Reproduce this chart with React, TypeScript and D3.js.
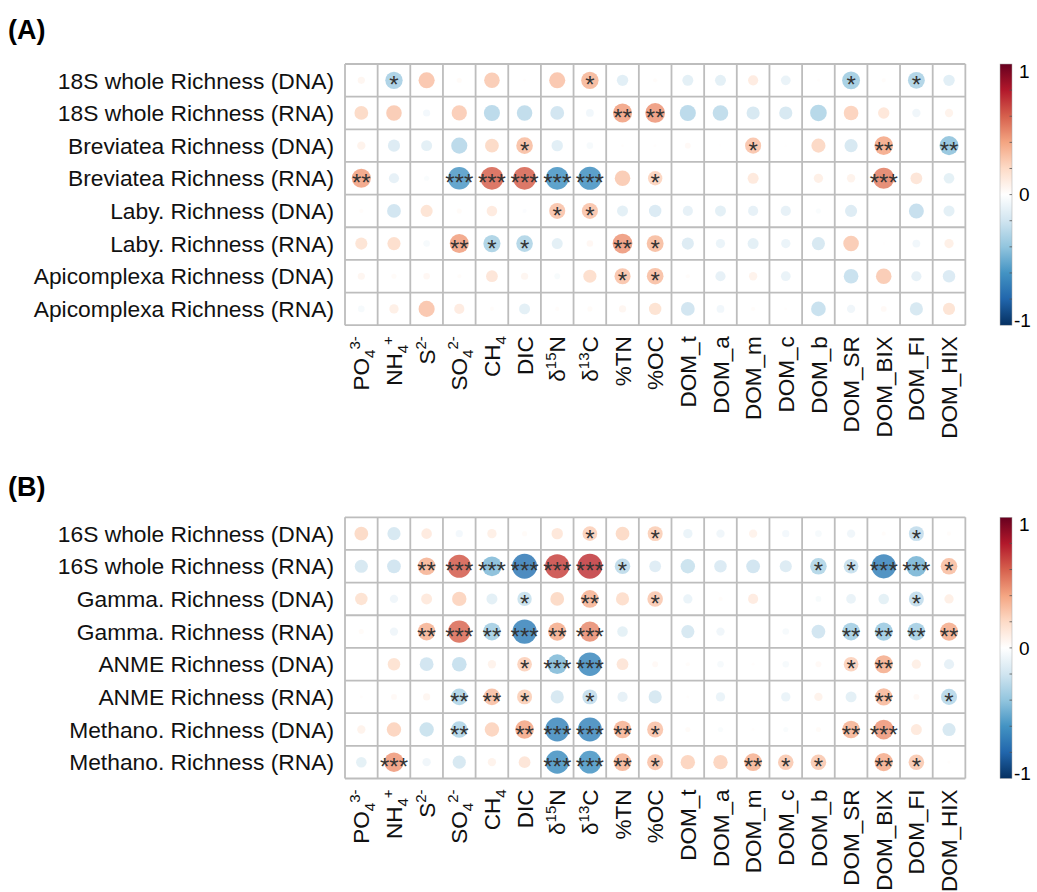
import * as d3 from 'd3';

const FONT = '"Liberation Sans", Arial, Helvetica, sans-serif';

// column labels: [text, 'n' | 'sub' | 'sup']
const columns: [string, string][][] = [
  [['PO', 'n'], ['4', 'sub'], ['3-', 'sup']],
  [['NH', 'n'], ['4', 'sub'], ['+', 'sup']],
  [['S', 'n'], ['2-', 'sup']],
  [['SO', 'n'], ['4', 'sub'], ['2-', 'sup']],
  [['CH', 'n'], ['4', 'sub']],
  [['DIC', 'n']],
  [['δ', 'n'], ['15', 'sup'], ['N', 'n']],
  [['δ', 'n'], ['13', 'sup'], ['C', 'n']],
  [['%TN', 'n']],
  [['%OC', 'n']],
  [['DOM_t', 'n']],
  [['DOM_a', 'n']],
  [['DOM_m', 'n']],
  [['DOM_c', 'n']],
  [['DOM_b', 'n']],
  [['DOM_SR', 'n']],
  [['DOM_BIX', 'n']],
  [['DOM_FI', 'n']],
  [['DOM_HIX', 'n']],
];

const rowsA = [
  '18S whole Richness (DNA)',
  '18S whole Richness (RNA)',
  'Breviatea Richness (DNA)',
  'Breviatea Richness (RNA)',
  'Laby. Richness (DNA)',
  'Laby. Richness (RNA)',
  'Apicomplexa Richness (DNA)',
  'Apicomplexa Richness (RNA)',
];

const rowsB = [
  '16S whole Richness (DNA)',
  '16S whole Richness (RNA)',
  'Gamma. Richness (DNA)',
  'Gamma. Richness (RNA)',
  'ANME Richness (DNA)',
  'ANME Richness (RNA)',
  'Methano. Richness (DNA)',
  'Methano. Richness (RNA)',
];

const corrA = [
  [0.06, -0.35, 0.3, 0.03, 0.28, 0.01, 0.3, 0.35, -0.15, 0.02, -0.14, -0.14, 0.12, -0.11, 0.01, -0.37, 0.02, -0.33, -0.15],
  [0.22, 0.28, -0.06, 0.27, -0.3, -0.28, -0.22, -0.07, 0.42, 0.45, -0.3, -0.28, -0.2, -0.2, -0.32, 0.25, 0.15, -0.08, 0.08],
  [0.08, -0.17, -0.14, -0.3, 0.22, 0.32, -0.15, -0.05, 0.01, 0.01, 0.04, 0.005, 0.3, 0.005, 0.23, -0.2, 0.4, 0, -0.42],
  [0.42, -0.12, -0.03, -0.58, 0.6, 0.6, -0.6, -0.62, 0.28, 0.24, 0, 0, 0.14, 0, 0.1, 0.08, 0.52, 0.16, -0.13],
  [0.02, -0.22, 0.17, 0.03, 0.13, -0.02, 0.3, 0.3, -0.14, -0.18, -0.12, -0.14, -0.12, -0.12, -0.03, -0.17, 0.005, -0.26, -0.14],
  [0.17, 0.2, -0.05, 0.42, -0.34, -0.32, -0.14, 0.05, 0.45, 0.33, -0.17, -0.1, -0.14, -0.1, -0.2, 0.28, 0.005, -0.07, 0.1],
  [0.06, 0.03, 0.05, 0.02, 0.16, 0.06, -0.04, 0.2, 0.3, 0.32, 0.02, -0.12, 0.08, -0.11, 0, -0.25, 0.28, -0.12, -0.18],
  [-0.05, 0.1, 0.3, 0.12, 0.02, -0.14, 0.02, 0.03, 0.06, 0.18, -0.22, -0.07, 0.02, 0.01, -0.25, -0.08, 0.04, -0.2, 0.17],
];

const sigA = [
  [0, 1, 0, 0, 0, 0, 0, 1, 0, 0, 0, 0, 0, 0, 0, 1, 0, 1, 0],
  [0, 0, 0, 0, 0, 0, 0, 0, 2, 2, 0, 0, 0, 0, 0, 0, 0, 0, 0],
  [0, 0, 0, 0, 0, 1, 0, 0, 0, 0, 0, 0, 1, 0, 0, 0, 2, 0, 2],
  [2, 0, 0, 3, 3, 3, 3, 3, 0, 1, 0, 0, 0, 0, 0, 0, 3, 0, 0],
  [0, 0, 0, 0, 0, 0, 1, 1, 0, 0, 0, 0, 0, 0, 0, 0, 0, 0, 0],
  [0, 0, 0, 2, 1, 1, 0, 0, 2, 1, 0, 0, 0, 0, 0, 0, 0, 0, 0],
  [0, 0, 0, 0, 0, 0, 0, 0, 1, 1, 0, 0, 0, 0, 0, 0, 0, 0, 0],
  [0, 0, 0, 0, 0, 0, 0, 0, 0, 0, 0, 0, 0, 0, 0, 0, 0, 0, 0],
];

const corrB = [
  [0.22, -0.2, 0.13, -0.06, 0.1, 0.03, 0.15, 0.25, 0.22, 0.26, -0.1, -0.08, 0.08, -0.06, -0.05, -0.08, 0.02, -0.26, 0.02],
  [-0.2, -0.22, 0.36, 0.62, -0.45, -0.72, 0.68, 0.72, -0.28, -0.16, -0.24, -0.18, -0.22, -0.17, -0.32, -0.25, -0.68, -0.48, 0.32],
  [0.18, -0.08, 0.14, 0.24, -0.14, -0.24, 0.22, 0.36, 0.2, 0.28, -0.1, 0.02, 0.12, 0, -0.04, -0.11, -0.13, -0.26, 0.1],
  [0.03, -0.08, 0.36, 0.58, -0.36, -0.68, 0.38, 0.48, -0.13, 0, -0.2, -0.08, 0, -0.05, -0.22, -0.36, -0.38, -0.36, 0.38],
  [0, 0.18, -0.22, -0.25, 0.08, 0.25, -0.45, -0.65, 0.16, 0.04, 0.02, -0.05, 0.01, -0.05, 0.04, 0.25, 0.38, 0.1, -0.12],
  [0.01, 0.04, 0.06, -0.32, 0.32, 0.26, -0.2, -0.26, -0.12, -0.2, 0.01, -0.1, 0, -0.1, 0.08, -0.14, 0.34, 0.04, -0.3],
  [0.08, 0.24, -0.24, -0.32, 0.24, 0.4, -0.66, -0.66, 0.36, 0.3, 0.03, -0.03, 0.01, -0.03, 0.03, 0.36, 0.45, 0.14, -0.2],
  [-0.13, 0.44, -0.08, -0.2, 0.08, 0.16, -0.62, -0.6, 0.36, 0.3, 0.24, 0.24, 0.36, 0.28, 0.28, 0, 0.38, 0.28, 0.01],
];

const sigB = [
  [0, 0, 0, 0, 0, 0, 0, 1, 0, 1, 0, 0, 0, 0, 0, 0, 0, 1, 0],
  [0, 0, 2, 3, 3, 3, 3, 3, 1, 0, 0, 0, 0, 0, 1, 1, 3, 3, 1],
  [0, 0, 0, 0, 0, 1, 0, 2, 0, 1, 0, 0, 0, 0, 0, 0, 0, 1, 0],
  [0, 0, 2, 3, 2, 3, 2, 3, 0, 0, 0, 0, 0, 0, 0, 2, 2, 2, 2],
  [0, 0, 0, 0, 0, 1, 3, 3, 0, 0, 0, 0, 0, 0, 0, 1, 2, 0, 0],
  [0, 0, 0, 2, 2, 1, 0, 1, 0, 0, 0, 0, 0, 0, 0, 0, 2, 0, 1],
  [0, 0, 0, 2, 0, 2, 3, 3, 2, 1, 0, 0, 0, 0, 0, 2, 3, 0, 0],
  [0, 3, 0, 0, 0, 0, 3, 3, 2, 1, 0, 0, 2, 1, 1, 0, 2, 1, 0],
];

const paletteStops = [-1, -0.8, -0.6, -0.4, -0.2, 0, 0.2, 0.4, 0.6, 0.8, 1];
const palette = ['#053061', '#2166AC', '#4393C3', '#92C5DE', '#D1E5F0', '#FFFFFF', '#FDDBC7', '#F4A582', '#D6604D', '#B2182B', '#67001F'];

const color = d3.scaleLinear<string>().domain(paletteStops).range(palette).interpolate(d3.interpolateRgb);

const gridLeft = 345;
const cell = 32.65;

function ColLabel({ parts, x, y }: { parts: [string, string][]; x: number; y: number }) {
  let cur = 0;
  return (
    <text transform={`translate(${x},${y}) rotate(-90)`} textAnchor="end" dy="0.36em" fontSize={22.5} fontFamily={FONT} fill="#111">
      {parts.map(([t, k], i) => {
        const target = k === 'sub' ? 6 : k === 'sup' ? -9 : 0;
        const dy = target - cur;
        cur = target;
        return (
          <tspan key={i} dy={i === 0 ? undefined : dy} fontSize={k === 'n' ? 22.5 : 15}>
            {t}
          </tspan>
        );
      })}
    </text>
  );
}

function Panel({ id, tag, tagY, top, rows, values, sig }: {
  id: string; tag: string; tagY: number; top: number; rows: string[]; values: number[][]; sig: number[][];
}) {
  const x = d3.scaleBand<number>().domain(d3.range(columns.length)).range([gridLeft, gridLeft + cell * columns.length]);
  const y = d3.scaleBand<number>().domain(d3.range(rows.length)).range([top, top + cell * rows.length]);
  const radius = d3.scaleSqrt().domain([0, 1]).range([0, 0.45 * x.bandwidth()]);
  const [y0, y1] = y.range();
  const cb = d3.scaleLinear().domain([-1, 1]).range([y1, y0]);
  const cbX = 1000;
  const cbW = 12;

  return (
    <g>
      <text x={8} y={tagY} fontSize={27} fontWeight="bold" fontFamily={FONT} fill="#000">{tag}</text>
      {rows.map((r, i) => (
        <text key={r} x={gridLeft - 11} y={y(i)! + y.bandwidth() / 2} dy="0.36em" textAnchor="end" fontSize={22.8} fontFamily={FONT} fill="#111">
          {r}
        </text>
      ))}
      <rect x={gridLeft} y={y0} width={cell * columns.length} height={y1 - y0} fill="#fff" />
      {values.map((row, i) =>
        row.map((v, j) => (
          <circle key={`${i}-${j}`} cx={x(j)! + x.bandwidth() / 2} cy={y(i)! + y.bandwidth() / 2} r={radius(Math.abs(v))} fill={color(v)} fillOpacity={0.85} />
        ))
      )}
      {d3.range(columns.length + 1).map((j) => (
        <line key={`v${j}`} x1={gridLeft + j * cell} x2={gridLeft + j * cell} y1={y0} y2={y1} stroke="#bdbdbd" strokeWidth={1.8} />
      ))}
      {d3.range(rows.length + 1).map((i) => (
        <line key={`h${i}`} x1={gridLeft} x2={gridLeft + cell * columns.length} y1={top + i * cell} y2={top + i * cell} stroke="#bdbdbd" strokeWidth={1.8} />
      ))}
      {sig.map((row, i) =>
        row.map((s, j) =>
          s > 0 ? (
            <text key={`s${i}-${j}`} x={x(j)! + x.bandwidth() / 2} y={y(i)! + y.bandwidth() / 2 + 13} textAnchor="middle" fontSize={24} fontFamily={FONT} fill="#333">
              {'*'.repeat(s)}
            </text>
          ) : null
        )
      )}
      {columns.map((c, j) => (
        <ColLabel key={j} parts={c} x={x(j)! + x.bandwidth() / 2} y={y1 + 11} />
      ))}
      <defs>
        <linearGradient id={`cb-${id}`} x1="0" y1="1" x2="0" y2="0">
          {palette.map((c, i) => (
            <stop key={i} offset={`${i * 10}%`} stopColor={c} />
          ))}
        </linearGradient>
      </defs>
      <rect x={cbX} y={y0} width={cbW} height={y1 - y0} fill={`url(#cb-${id})`} stroke="#aaa" strokeWidth={0.5} />
      {d3.range(-0.8, 0.81, 0.2).map((t) => (
        <line key={t.toFixed(1)} x1={cbX + cbW - 2.5} x2={cbX + cbW} y1={cb(t)} y2={cb(t)} stroke="#555" strokeWidth={0.8} />
      ))}
      <text x={1019} y={cb(1) + 7} dy="0.36em" fontSize={19} fontFamily={FONT}>1</text>
      <text x={1019} y={cb(0)} dy="0.36em" fontSize={19} fontFamily={FONT}>0</text>
      <text x={1014} y={cb(-1) - 5} dy="0.36em" fontSize={19} fontFamily={FONT}>-1</text>
    </g>
  );
}

export default function App() {
  return (
    <svg width={1037} height={892} style={{ position: 'absolute', left: 0, top: 0, background: '#fff' }}>
      <rect width={1037} height={892} fill="#fff" />
      <Panel id="a" tag="(A)" tagY={39} top={64} rows={rowsA} values={corrA} sig={sigA} />
      <Panel id="b" tag="(B)" tagY={496} top={517.3} rows={rowsB} values={corrB} sig={sigB} />
    </svg>
  );
}
